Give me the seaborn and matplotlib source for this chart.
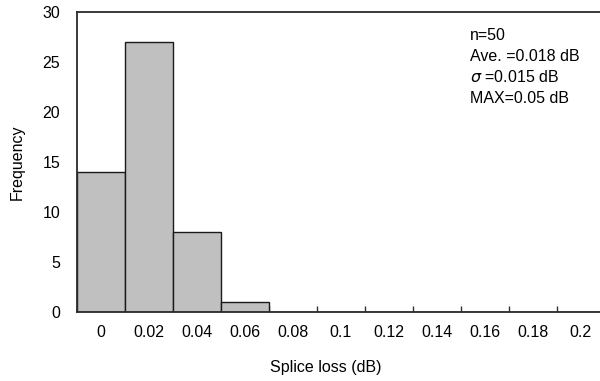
import numpy as np
import pandas as pd
import seaborn as sns
import matplotlib.pyplot as plt

# datos del histograma (splice loss)
perdida = ["0", "0.02", "0.04", "0.06", "0.08", "0.1", "0.12", "0.14", "0.16", "0.18", "0.2"]
frecuencia = [14, 27, 8, 1, 0, 0, 0, 0, 0, 0, 0]
resumen = ["n=50", "Ave. =0.018 dB", r"$\sigma$ =0.015 dB", "MAX=0.05 dB"]

sns.set_style("white")
plt.rcParams['font.family'] = ['Liberation Sans', 'DejaVu Sans']
plt.rcParams['mathtext.fontset'] = 'dejavusans'
plt.rcParams['text.color'] = 'black'
plt.rcParams['axes.labelcolor'] = 'black'
plt.rcParams['xtick.color'] = 'black'
plt.rcParams['ytick.color'] = 'black'

df = pd.DataFrame({'Splice loss': perdida, 'Frequency': frecuencia})

fig = plt.figure(figsize=(6, 3.81), dpi=100)
ax = fig.add_axes([0.128, 0.181, 0.872, 0.787])

sns.barplot(data=df, x='Splice loss', y='Frequency', order=perdida,
            color='#c0c0c0', saturation=1, width=1,
            edgecolor='#1a1a1a', linewidth=1, ax=ax)

ax.set_xlim(-0.5, 10.4)
ax.set_ylim(0, 30)
ax.set_yticks([0, 5, 10, 15, 20, 25, 30])

# ticks entre categorias
ax.set_xticks(np.arange(0.5, 10.5, 1), minor=True)
ax.tick_params(axis='x', which='minor', direction='in', length=4, width=1, color='#333333', bottom=True)
ax.tick_params(axis='x', which='major', length=0, pad=9, labelsize=11.5)
ax.tick_params(axis='y', length=0, pad=12, labelsize=11.5)

for lado in ['left', 'top', 'bottom']:
    ax.spines[lado].set_color('#2a2a2a')
    ax.spines[lado].set_linewidth(1.3)
ax.spines['right'].set_visible(False)

ax.set_xlabel("Splice loss (dB)", fontsize=11.5)
ax.set_ylabel("Frequency", fontsize=11.5)
ax.xaxis.set_label_coords((326 - 77) / 523, -0.16)
ax.yaxis.set_label_coords(-0.1, 0.5)

ax.text((470 - 77) / 523, (312 - 28) / 300, "\n".join(resumen), transform=ax.transAxes,
        fontsize=11.5, va='top', ha='left', linespacing=1.45)

plt.savefig("out.png", dpi=100)
